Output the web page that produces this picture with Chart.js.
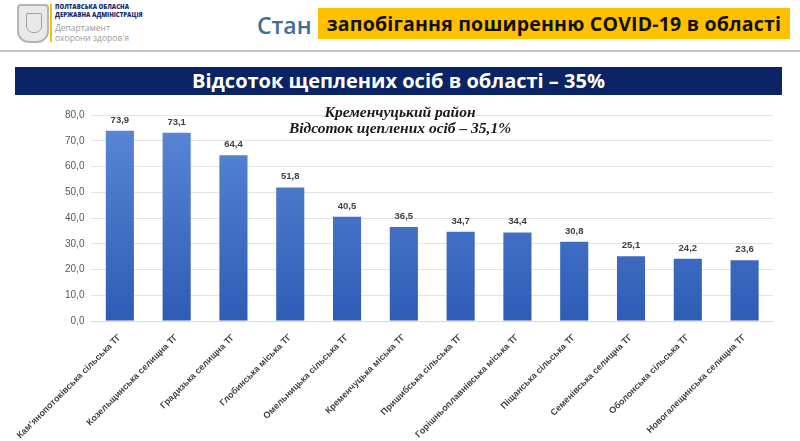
<!DOCTYPE html>
<html lang="uk">
<head>
<meta charset="utf-8">
<script src="https://cdn.jsdelivr.net/npm/chart.js@4"></script>
<style>
  body { margin: 0; width: 800px; height: 441px; background: #fff; position: relative; overflow: hidden; font-family: "Open Sans", "Noto Sans", sans-serif; }
  .crest { position: absolute; left: 17px; top: 4px; width: 28px; height: 35px; border: 2px solid #b5b5b5; border-radius: 4px 4px 12px 12px; background: #e9e9e9; }
  .crest:after { content: ""; position: absolute; left: 7px; top: 7px; width: 14px; height: 18px; border: 1px solid #a0a0a0; border-radius: 2px 2px 7px 7px; }
  .org { position: absolute; left: 50px; top: 4px; border-left: 2px solid #f2c200; padding-left: 3px; line-height: 7.5px; }
  .org .a { font-size: 6px; font-weight: 800; color: #1b2f6b; }
  .org .b { font-size: 8.5px; color: #9a9a9a; margin-top: 4px; line-height: 9.5px; }
  .stan { position: absolute; left: 257px; top: 9px; font-size: 23px; font-weight: 600; color: #3d6f98; }
  .yellow { position: absolute; left: 318px; top: 8px; width: 472px; height: 31px; background: #ffc000; font-size: 19.5px; font-weight: 700; color: #111; line-height: 31px; text-align: center; letter-spacing: 0.2px; }
  .rule { position: absolute; left: 0; top: 50px; width: 800px; height: 2px; background: #c4c4c4; }
  .navy { position: absolute; left: 15px; top: 67px; width: 767px; height: 28px; background: #0b2465; color: #fff; font-size: 20px; font-weight: 700; line-height: 28px; text-align: center; }
  .sub { position: absolute; left: 250px; top: 104px; width: 300px; text-align: center; font-family: "Liberation Serif", serif; font-style: italic; font-weight: 700; font-size: 15.5px; line-height: 16px; color: #1a1a1a; z-index: 2; }
  #chart { position: absolute; left: 0; top: 98px; }
</style>
</head>
<body>
<div class="crest"></div>
<div class="org">
  <div class="a">ПОЛТАВСЬКА ОБЛАСНА<br>ДЕРЖАВНА АДМІНІСТРАЦІЯ</div>
  <div class="b">Департамент<br>охорони здоров'я</div>
</div>
<div class="stan">Стан</div>
<div class="yellow">запобігання поширенню COVID-19 в області</div>
<div class="rule"></div>
<div class="navy">Відсоток щеплених осіб в області – 35%</div>
<div class="sub">Кременчуцький район<br>Відсоток щеплених осіб – 35,1%</div>
<canvas id="chart" width="800" height="343"></canvas>
<script>
"use strict";
const communities = [
  "Кам’янопотоківська сільська ТГ",
  "Козельщинська селищна ТГ",
  "Градизька селищна ТГ",
  "Глобинська міська ТГ",
  "Омельницька сільська ТГ",
  "Кременчуцька міська ТГ",
  "Пришибська сільська ТГ",
  "Горішньоплавнівська міська ТГ",
  "Піщанська сільська ТГ",
  "Семенівська селищна ТГ",
  "Оболонська сільська ТГ",
  "Новогалещинська селищна ТГ"
];
const vaccinated = [73.9, 73.1, 64.4, 51.8, 40.5, 36.5, 34.7, 34.4, 30.8, 25.1, 24.2, 23.6];
const yMin = 0;
const yMax = 80;
const yStep = 10;

function comma(v) {
  return Number(v).toFixed(1).replace(".", ",");
}

// labels above each bar
const valueLabels = {
  id: "valueLabels",
  afterDatasetsDraw(chart) {
    const ctx = chart.ctx;
    const meta = chart.getDatasetMeta(0);
    ctx.save();
    ctx.font = "bold 9.5px 'Liberation Sans', sans-serif";
    ctx.fillStyle = "#404040";
    ctx.textAlign = "center";
    ctx.textBaseline = "bottom";
    meta.data.forEach((bar, i) => {
      ctx.fillText(comma(chart.data.datasets[0].data[i]), bar.x, bar.y - 6);
    });
    ctx.restore();
  }
};

const ctx = document.getElementById("chart");
const myChart = new Chart(ctx, {
  type: "bar",
  data: {
    labels: communities,
    datasets: [
      {
        data: vaccinated,
        backgroundColor: (c) => {
          const a = c.chart.chartArea;
          if (!a) return "#4472c4";
          const g = c.chart.ctx.createLinearGradient(0, a.top, 0, a.bottom);
          g.addColorStop(0, "#5b88d6");
          g.addColorStop(1, "#2e5cb5");
          return g;
        },
        borderWidth: 0,
        barPercentage: 0.55,
        categoryPercentage: 0.9
      }
    ]
  },
  options: {
    responsive: false,
    animation: false,
    layout: { padding: { left: 58, right: 27, top: 17, bottom: 0 } },
    plugins: {
      legend: { display: false },
      tooltip: { enabled: false }
    },
    scales: {
      x: {
        grid: { display: false },
        border: { color: "#d9d9d9" },
        afterFit: (scale) => { scale.height = 120; },
        ticks: {
          autoSkip: false,
          maxRotation: 45,
          minRotation: 45,
          color: "#404040",
          font: { family: "'Liberation Sans', sans-serif", size: 9, weight: "bold" }
        }
      },
      y: {
        min: yMin,
        max: yMax,
        border: { display: false },
        grid: { color: "#e3e3e3", drawTicks: false },
        ticks: {
          stepSize: yStep,
          padding: 7,
          color: "#595959",
          font: { family: "'Liberation Sans', sans-serif", size: 10 },
          callback: (v) => comma(v)
        }
      }
    }
  },
  plugins: [valueLabels]
});
</script>
</body>
</html>
